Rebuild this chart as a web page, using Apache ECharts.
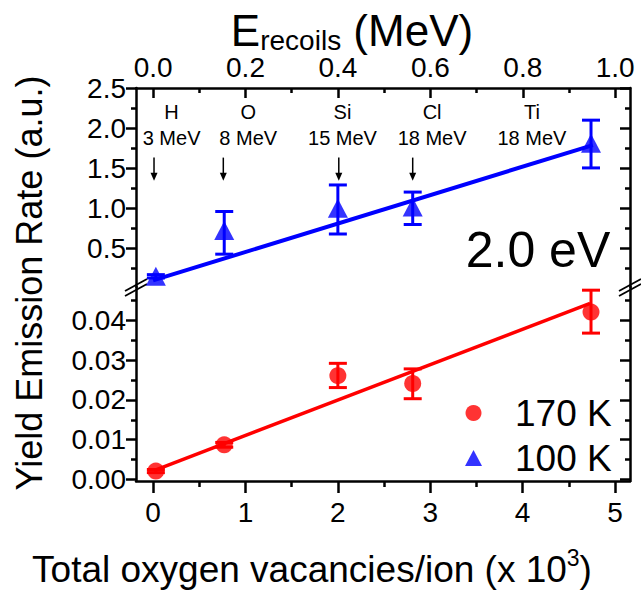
<!DOCTYPE html>
<html><head><meta charset="utf-8">
<script src="https://cdn.jsdelivr.net/npm/echarts@6/dist/echarts.min.js"></script>
<style>html,body{margin:0;padding:0;background:#fff}#c{width:641px;height:593px}</style>
</head><body><div id="c"></div>
<script>
// ---- data ----
const vacancies = [0.03, 0.77, 2.0, 2.81, 4.74];
const yield170 = [0.0021, 0.0087, 0.0261, 0.0241, 0.0421];
const err170Low = [0.0017, 0.0081, 0.0231, 0.0203, 0.0368];
const err170High = [0.0025, 0.0093, 0.0292, 0.0278, 0.0476];
const yield100 = [0.146, 0.72, 0.998, 1.011, 1.808];
const err100Low = [0.125, 0.423, 0.675, 0.794, 1.501];
const err100High = [0.167, 0.956, 1.288, 1.199, 2.098];
const fit170X = [0.03, 4.73];
const fit170Y = [0.0024, 0.0443];
const fit100X = [0.0, 4.76];
const fit100Y = [0.095, 1.787];
const ionNames = ['H', 'O', 'Si', 'Cl', 'Ti'];
const ionEnergies = ['3 MeV', '8 MeV', '15 MeV', '18 MeV', '18 MeV'];
const ionLabelX = [0.2, 1.03, 2.05, 3.02, 4.1];
const arrowX = [0.01, 0.76, 2.01, 2.81];
const bottomTicks = [0, 1, 2, 3, 4, 5];
const bottomMinor = [0.5, 1.5, 2.5, 3.5, 4.5];
const topTicks = [0, 0.2, 0.4, 0.6, 0.8, 1.0];
const topMinor = [0.1, 0.3, 0.5, 0.7, 0.9];
const upperTicks = [0.5, 1.0, 1.5, 2.0, 2.5];
const upperMinor = [0.25, 0.75, 1.25, 1.75, 2.25];
const lowerTicks = [0, 0.01, 0.02, 0.03, 0.04];
const lowerMinor = [0.005, 0.015, 0.025, 0.035, 0.045];

// ---- layout ----
const FONT = 'Liberation Sans, Arial, sans-serif';
const L = 136, R = 630, T = 88, B = 481, BRK = 287;
const X0 = -0.185, X1 = 5.162;
const E0 = -0.037, E1 = 1.032;
const UMIN = 2.5 - (BRK - T) / 80, UMAX = 2.5;
const LMIN = -0.0004, LMAX = 0.0484;
const LW = 2.5;
const blue = '#0000ff', red = '#ff0000';

const chart = echarts.init(document.getElementById('c'), null, {renderer: 'svg'});

const mctx = document.createElement('canvas').getContext('2d');
function tw(text, size) { mctx.font = size + 'px "Liberation Sans", Arial, sans-serif'; return mctx.measureText(text).width; }

function majorAxis(extra) {
  return Object.assign({
    axisLine: {show: true, onZero: false, lineStyle: {color: '#000', width: LW}},
    splitLine: {show: false},
  }, extra);
}
function minorAxis(extra) {
  return Object.assign({
    axisLine: {show: false, onZero: false},
    axisLabel: {show: false},
    splitLine: {show: false},
  }, extra);
}
const labelStyle = {color: '#000', fontFamily: FONT, fontSize: 28};

const xAxis = [
  {gridIndex: 0, type: 'value', min: X0, max: X1, show: false},
  majorAxis({gridIndex: 0, type: 'value', position: 'top', min: E0, max: E1,
    axisTick: {show: true, inside: true, length: 10, customValues: topTicks, lineStyle: {width: LW, color: '#000'}},
    axisLabel: Object.assign({show: true, customValues: topTicks, margin: 7, formatter: v => v.toFixed(1)}, labelStyle)}),
  minorAxis({gridIndex: 0, type: 'value', position: 'top', min: E0, max: E1,
    axisTick: {show: true, inside: true, length: 5, customValues: topMinor, lineStyle: {width: LW, color: '#000'}}}),
  majorAxis({gridIndex: 1, type: 'value', position: 'bottom', min: X0, max: X1,
    axisTick: {show: true, inside: false, length: 12, customValues: bottomTicks, lineStyle: {width: LW, color: '#000'}},
    axisLabel: Object.assign({show: true, customValues: bottomTicks, margin: 17, formatter: v => String(v)}, labelStyle)}),
  minorAxis({gridIndex: 1, type: 'value', position: 'bottom', min: X0, max: X1,
    axisTick: {show: true, inside: false, length: 6, customValues: bottomMinor, lineStyle: {width: LW, color: '#000'}}}),
];
const yAxis = [
  majorAxis({gridIndex: 0, type: 'value', position: 'left', min: UMIN, max: UMAX,
    axisTick: {show: true, inside: false, length: 10, customValues: upperTicks, lineStyle: {width: LW, color: '#000'}},
    axisLabel: Object.assign({show: true, customValues: upperTicks, margin: 10, formatter: v => v.toFixed(1)}, labelStyle)}),
  minorAxis({gridIndex: 0, type: 'value', position: 'left', min: UMIN, max: UMAX,
    axisTick: {show: true, inside: false, length: 5, customValues: upperMinor, lineStyle: {width: LW, color: '#000'}}}),
  majorAxis({gridIndex: 0, type: 'value', position: 'right', min: UMIN, max: UMAX,
    axisTick: {show: true, inside: true, length: 10, customValues: upperTicks, lineStyle: {width: LW, color: '#000'}},
    axisLabel: {show: false}}),
  minorAxis({gridIndex: 0, type: 'value', position: 'right', min: UMIN, max: UMAX,
    axisTick: {show: true, inside: true, length: 5, customValues: upperMinor, lineStyle: {width: LW, color: '#000'}}}),
  majorAxis({gridIndex: 1, type: 'value', position: 'left', min: LMIN, max: LMAX,
    axisTick: {show: true, inside: false, length: 10, customValues: lowerTicks, lineStyle: {width: LW, color: '#000'}},
    axisLabel: Object.assign({show: true, customValues: lowerTicks, margin: 10, formatter: v => v.toFixed(2)}, labelStyle)}),
  minorAxis({gridIndex: 1, type: 'value', position: 'left', min: LMIN, max: LMAX,
    axisTick: {show: true, inside: false, length: 5, customValues: lowerMinor, lineStyle: {width: LW, color: '#000'}}}),
  majorAxis({gridIndex: 1, type: 'value', position: 'right', min: LMIN, max: LMAX,
    axisTick: {show: true, inside: true, length: 10, customValues: lowerTicks, lineStyle: {width: LW, color: '#000'}},
    axisLabel: {show: false}}),
  minorAxis({gridIndex: 1, type: 'value', position: 'right', min: LMIN, max: LMAX,
    axisTick: {show: true, inside: true, length: 5, customValues: lowerMinor, lineStyle: {width: LW, color: '#000'}}}),
];

function errRender(params, api) {
  const x = api.value(0), lo = api.value(1), hi = api.value(2);
  const p1 = api.coord([x, lo]), p2 = api.coord([x, hi]);
  const cw = 9;
  const style = {stroke: api.visual('color'), lineWidth: 3};
  return {type: 'group', children: [
    {type: 'line', shape: {x1: p1[0], y1: p1[1], x2: p2[0], y2: p2[1]}, style},
    {type: 'line', shape: {x1: p1[0] - cw, y1: p1[1], x2: p1[0] + cw, y2: p1[1]}, style},
    {type: 'line', shape: {x1: p2[0] - cw, y1: p2[1], x2: p2[0] + cw, y2: p2[1]}, style},
  ]};
}
function arrowRender(params, api) {
  const x = api.value(0);
  const p1 = api.coord([x, 1.63]), p2 = api.coord([x, 1.34]);
  return {type: 'group', children: [
    {type: 'line', shape: {x1: p1[0], y1: p1[1], x2: p2[0], y2: p2[1] - 6}, style: {stroke: '#000', lineWidth: 1.5}},
    {type: 'polygon', shape: {points: [[p2[0] - 3.5, p2[1] - 8], [p2[0] + 3.5, p2[1] - 8], [p2[0], p2[1]]]}, style: {fill: '#000'}},
  ]};
}
function labelRender(params, api) {
  const i = params.dataIndex;
  const x = api.value(0);
  const a = api.coord([x, 2.2]), b = api.coord([x, 1.88]);
  const ts = {fontFamily: FONT, fontSize: 20, fill: '#000', align: 'center', verticalAlign: 'middle'};
  return {type: 'group', children: [
    {type: 'text', x: a[0], y: a[1], style: Object.assign({text: ionNames[i]}, ts)},
    {type: 'text', x: b[0], y: b[1], style: Object.assign({text: ionEnergies[i]}, ts)},
  ]};
}

const series = [
  {type: 'line', xAxisIndex: 0, yAxisIndex: 0, data: fit100X.map((x, i) => [x, fit100Y[i]]),
    symbol: 'none', lineStyle: {color: blue, width: 4}, silent: true, z: 2},
  {type: 'custom', name: 'err100', xAxisIndex: 0, yAxisIndex: 0, renderItem: errRender,
    itemStyle: {color: blue}, encode: {x: 0, y: [1, 2]},
    data: vacancies.map((x, i) => [x, err100Low[i], err100High[i]]), z: 3},
  {type: 'scatter', name: '100 K', xAxisIndex: 0, yAxisIndex: 0, symbol: 'triangle', symbolSize: [20, 19],
    itemStyle: {color: blue}, data: vacancies.map((x, i) => [x, yield100[i]]), z: 4},
  {type: 'line', xAxisIndex: 3, yAxisIndex: 4, data: fit170X.map((x, i) => [x, fit170Y[i]]),
    symbol: 'none', lineStyle: {color: red, width: 3.5}, silent: true, z: 2},
  {type: 'custom', name: 'err170', xAxisIndex: 3, yAxisIndex: 4, renderItem: errRender,
    itemStyle: {color: red}, encode: {x: 0, y: [1, 2]},
    data: vacancies.map((x, i) => [x, err170Low[i], err170High[i]]), z: 3},
  {type: 'scatter', name: '170 K', xAxisIndex: 3, yAxisIndex: 4, symbol: 'circle', symbolSize: 17,
    itemStyle: {color: red}, data: vacancies.map((x, i) => [x, yield170[i]]), z: 4},
  {type: 'custom', xAxisIndex: 0, yAxisIndex: 0, renderItem: arrowRender, encode: {x: 0},
    data: arrowX.map(x => [x]), silent: true, z: 5},
  {type: 'custom', xAxisIndex: 0, yAxisIndex: 0, renderItem: labelRender, encode: {x: 0},
    data: ionLabelX.map(x => [x]), silent: true, z: 5},
];

function breakMark(cx, cy) {
  return {type: 'group', x: cx, y: cy, z: 100, children: [
    {type: 'polygon', shape: {points: [[-11, 4], [11, -8], [11, -2], [-11, 10]]}, style: {fill: '#fff'}},
    {type: 'line', shape: {x1: -11, y1: 4, x2: 11, y2: -8}, style: {stroke: '#000', lineWidth: 1.8}},
    {type: 'line', shape: {x1: -11, y1: 9, x2: 11, y2: -3}, style: {stroke: '#000', lineWidth: 1.8}},
  ]};
}

// multi-part titles (sub/superscripts) laid out with measured widths
function partsText(cx, cy, parts) {
  const total = parts.reduce((s, p) => s + tw(p.text, p.size), 0);
  let x = cx - total / 2;
  return parts.map(p => {
    const el = {type: 'text', x: x, y: cy + (p.dy || 0), z: 50, style: {
      text: p.text, fontFamily: FONT, fontSize: p.size, fill: '#000', align: 'left', verticalAlign: 'middle'}};
    x += tw(p.text, p.size);
    return el;
  });
}

const topTitle = partsText(352, 30, [
  {text: 'E', size: 44}, {text: 'recoils', size: 28, dy: 10}, {text: ' (MeV)', size: 44}]);
const bottomTitle = partsText(312, 569, [
  {text: 'Total oxygen vacancies/ion (x 10', size: 37}, {text: '3', size: 23, dy: -11}, {text: ')', size: 37}]);

chart.setOption({
  backgroundColor: '#fff',
  animation: false,
  grid: [
    {left: L, top: T, width: R - L, height: BRK - T, containLabel: false},
    {left: L, top: BRK, width: R - L, height: B - BRK, containLabel: false},
  ],
  xAxis, yAxis, series,
  legend: {
    orient: 'vertical', left: 460, top: 389, itemWidth: 17, itemHeight: 16, itemGap: 7,
    data: [{name: '170 K', icon: 'circle'}, {name: '100 K', icon: 'triangle'}],
    textStyle: {fontFamily: FONT, fontSize: 37, color: '#000', lineHeight: 38, padding: [0, 0, 0, 28]},
    selectedMode: false,
  },
  graphic: [
    breakMark(L, BRK),
    breakMark(R, BRK),
    {type: 'text', x: 538, y: 250, z: 50, style: {text: '2.0 eV', fontFamily: FONT, fontSize: 50, fill: '#000', align: 'center', verticalAlign: 'middle'}},
    ...topTitle,
    ...bottomTitle,
    {type: 'text', x: 29, y: 283, rotation: Math.PI / 2, z: 50, style: {
      text: 'Yield Emission Rate (a.u.)', fontFamily: FONT, fontSize: 36, fill: '#000', align: 'center', verticalAlign: 'middle'}},
  ],
});
</script></body></html>
